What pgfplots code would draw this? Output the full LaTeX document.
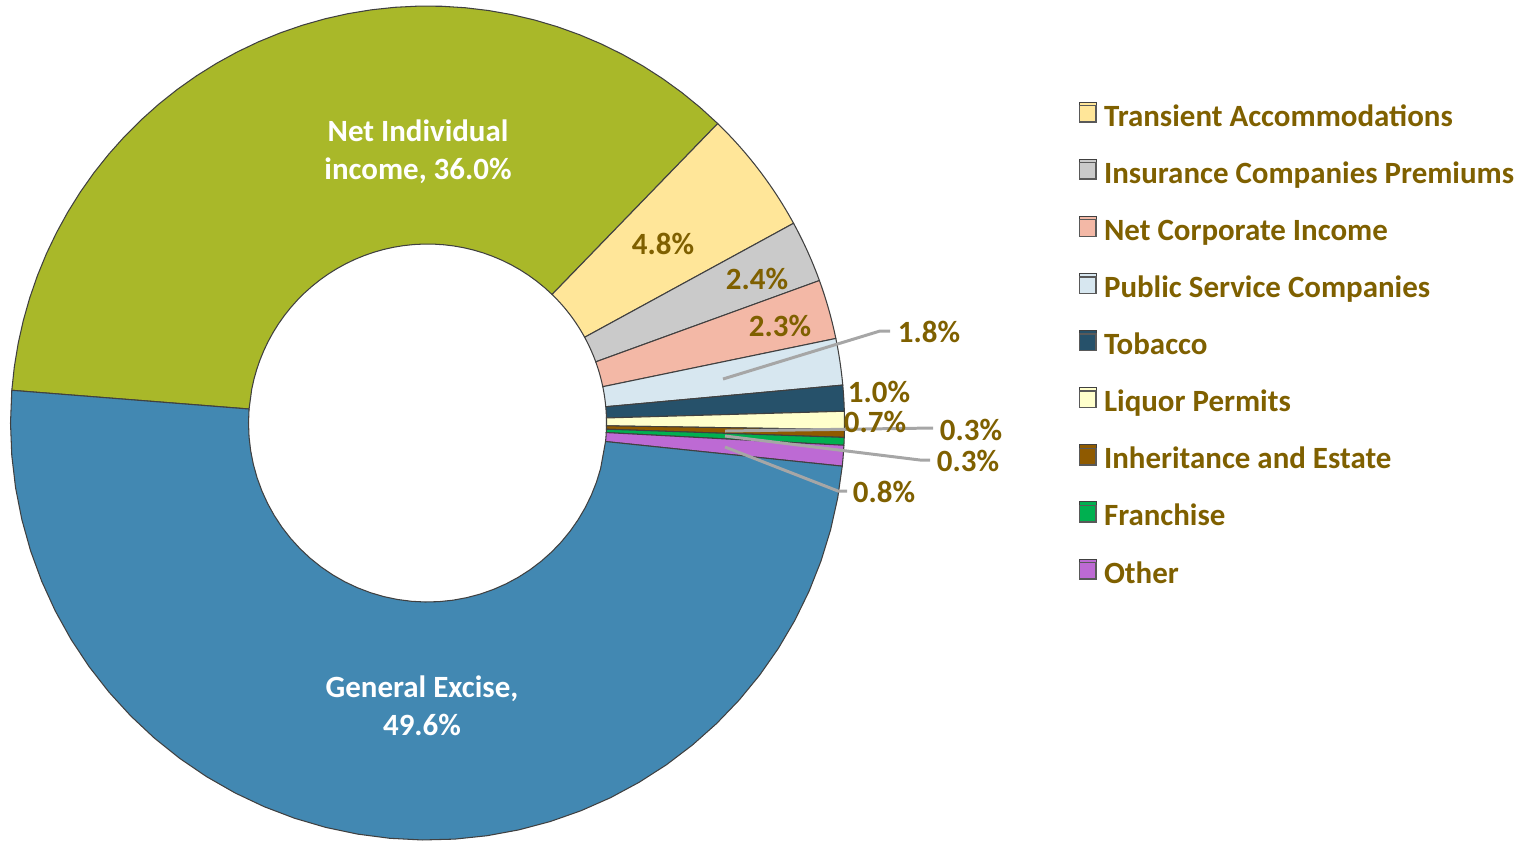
\documentclass[border=0pt]{standalone}
\usepackage{pgfplots}
\pgfplotsset{compat=1.18}
\usepackage{fontspec}
\setmainfont{Carlito}
\definecolor{cNI}{HTML}{A9B829}
\definecolor{cGE}{HTML}{4288B2}
\definecolor{cTA}{HTML}{FFE699}
\definecolor{cIC}{HTML}{CACACA}
\definecolor{cNC}{HTML}{F3B8A6}
\definecolor{cPS}{HTML}{D7E7F0}
\definecolor{cTO}{HTML}{26516A}
\definecolor{cLP}{HTML}{FFFFCC}
\definecolor{cIE}{HTML}{8F5A00}
\definecolor{cFR}{HTML}{00B050}
\definecolor{cOT}{HTML}{BD6AD4}
\definecolor{txtc}{HTML}{7F6000}
\definecolor{edgec}{HTML}{404040}
\definecolor{legedge}{HTML}{595959}
\definecolor{leadc}{HTML}{A6A6A6}
\newcommand{\cx}{4.275}
\newcommand{\cy}{4.18}
\newcommand{\Ro}{4.17}
\newcommand{\Ri}{1.79}
\newcommand{\astart}{175.5}
% #1 options, #2 colour, #3 cumulative share before the slice (%), #4 share (%)
\newcommand{\slice}[4][]{%
\addplot[#1, fill=#2, draw=edgec, line width=0.3pt,
  samples at={0,0.025,...,0.975,1,1.0001,1.025,1.05,...,1.975,2}, variable=\t]
({\cx + (\t<=1 ? \Ro : \Ri)*cos(\t<=1 ? \astart-3.6*#3-\t*3.6*#4 : \astart-3.6*#3-(2-\t)*3.6*#4)},
 {\cy + (\t<=1 ? \Ro : \Ri)*sin(\t<=1 ? \astart-3.6*#3-\t*3.6*#4 : \astart-3.6*#3-(2-\t)*3.6*#4)}) -- cycle;}
\tikzset{lab/.style={font=\fontsize{8.8}{10.8}\selectfont\bfseries, text=txtc, inner sep=0pt, align=center},
  wlab/.style={lab, text=white}}
\begin{document}
\begin{tikzpicture}
\begin{axis}[x=1cm, y=1cm, xmin=0, xmax=15.25, ymin=0, ymax=8.41, hide axis, clip=false,
  legend style={at={(axis cs:10.79,7.395)}, anchor=north west, draw=none, fill=none,
    inner sep=0pt, outer sep=0pt, font=\fontsize{8.8}{10.8}\selectfont\bfseries, text=txtc,
    row sep=0.256cm, column sep=0.075cm,
    nodes={inner sep=0pt, text height=0.2cm, text depth=0.07cm}},
  legend cell align=left,
  legend image code/.code={\path (0cm,0.01cm) rectangle (0.165cm,0.175cm);
    \draw[#1, draw=legedge, line width=0.4pt, overlay] (0cm,-0.025cm) rectangle (0.165cm,0.14cm);},
]
\path (axis cs:0,0) rectangle (axis cs:15.25,8.41);
\slice[forget plot]{cNI}{0}{36.0}
\slice{cTA}{36.0}{4.8}
\addlegendentry{Transient Accommodations}
\slice{cIC}{40.8}{2.4}
\addlegendentry{Insurance Companies Premiums}
\slice{cNC}{43.2}{2.3}
\addlegendentry{Net Corporate Income}
\slice{cPS}{45.5}{1.8}
\addlegendentry{Public Service Companies}
\slice{cTO}{47.3}{1.0}
\addlegendentry{Tobacco}
\slice{cLP}{48.3}{0.7}
\addlegendentry{Liquor Permits}
\slice{cIE}{49.0}{0.3}
\addlegendentry{Inheritance and Estate}
\slice{cFR}{49.3}{0.3}
\addlegendentry{Franchise}
\slice{cOT}{49.6}{0.8}
\addlegendentry{Other}
\slice[forget plot]{cGE}{50.4}{49.6}
% leader lines
\addplot[forget plot, leadc, line width=0.85pt] coordinates {(7.23,4.62) (8.80,5.10) (8.90,5.10)};
\addplot[forget plot, leadc, line width=0.85pt] coordinates {(7.25,4.10) (9.33,4.13)};
\addplot[forget plot, leadc, line width=0.85pt] coordinates {(7.25,4.05) (9.20,3.81) (9.30,3.81)};
\addplot[forget plot, leadc, line width=0.85pt] coordinates {(7.25,3.94) (8.38,3.50) (8.47,3.50)};
% labels
\node[wlab] at (axis cs:4.18,6.89) {Net Individual\\income, 36.0\%};
\node[wlab] at (axis cs:4.22,1.35) {General Excise,\\49.6\%};
\node[lab] at (axis cs:6.63,5.97) {4.8\%};
\node[lab] at (axis cs:7.57,5.62) {2.4\%};
\node[lab] at (axis cs:7.80,5.15) {2.3\%};
\node[lab] at (axis cs:9.29,5.09) {1.8\%};
\node[lab] at (axis cs:8.79,4.49) {1.0\%};
\node[lab] at (axis cs:8.75,4.19) {0.7\%};
\node[lab] at (axis cs:9.71,4.11) {0.3\%};
\node[lab] at (axis cs:9.68,3.80) {0.3\%};
\node[lab] at (axis cs:8.84,3.49) {0.8\%};
\end{axis}
\end{tikzpicture}
\end{document}
